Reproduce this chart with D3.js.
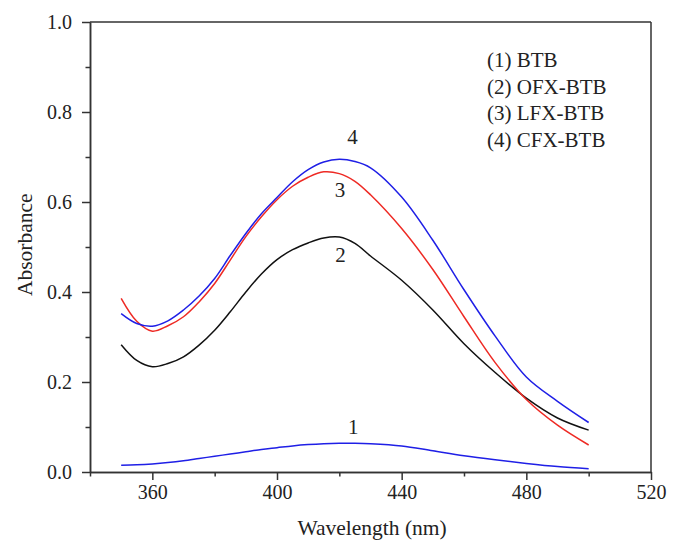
<!DOCTYPE html>
<html>
<head>
<meta charset="utf-8">
<script src="https://cdn.jsdelivr.net/npm/d3@7"></script>
<style>
  body { margin: 0; background: #fff; }
  svg text { font-family: "Liberation Serif", "Times New Roman", "DejaVu Serif", serif; fill: #222; }
</style>
</head>
<body>
<div id="chart"></div>
<script>
const margin = { top: 22, right: 28, bottom: 82, left: 90 };
const width = 679 - margin.left - margin.right;
const height = 554 - margin.top - margin.bottom;

// wavelength (nm) and absorbance
const wavelengths = [350, 355, 360, 365, 370, 375, 380, 385, 390, 395, 400, 405, 410, 415, 420, 425, 430, 440, 450, 460, 470, 480, 490, 500];
const btb    = [0.015, 0.016, 0.018, 0.021, 0.025, 0.030, 0.035, 0.040, 0.045, 0.050, 0.054, 0.058, 0.061, 0.063, 0.064, 0.064, 0.063, 0.058, 0.047, 0.036, 0.027, 0.019, 0.012, 0.007];
const ofxBtb = [0.283, 0.248, 0.234, 0.241, 0.256, 0.282, 0.315, 0.356, 0.400, 0.440, 0.472, 0.494, 0.509, 0.520, 0.522, 0.508, 0.480, 0.426, 0.360, 0.285, 0.221, 0.164, 0.120, 0.093];
const lfxBtb = [0.386, 0.335, 0.313, 0.325, 0.345, 0.378, 0.419, 0.471, 0.523, 0.567, 0.605, 0.635, 0.655, 0.667, 0.663, 0.646, 0.616, 0.541, 0.450, 0.345, 0.243, 0.161, 0.104, 0.060];
const cfxBtb = [0.352, 0.330, 0.324, 0.336, 0.360, 0.391, 0.430, 0.481, 0.530, 0.574, 0.610, 0.645, 0.672, 0.689, 0.695, 0.690, 0.676, 0.611, 0.515, 0.405, 0.302, 0.211, 0.157, 0.110];

const seriesNames = ['(1) BTB', '(2) OFX-BTB', '(3) LFX-BTB', '(4) CFX-BTB'];
const curveNumbers = ['1', '2', '3', '4'];
// where the little number sits next to each curve (nm, absorbance)
const numberAtX = [424.5, 420.4, 420.2, 424.2];
const numberAtY = [0.100, 0.482, 0.627, 0.745];

const xMajor = [360, 400, 440, 480, 520];
const xMinor = [340, 380, 420, 460, 500];
const yMajor = [0, 0.2, 0.4, 0.6, 0.8, 1.0];
const yMinor = [0.1, 0.3, 0.5, 0.7, 0.9];

const colors = ['#1f1fe6', '#111111', '#ee2a24', '#1f1fe6'];
const allSeries = [btb, ofxBtb, lfxBtb, cfxBtb];
const serif = '"Liberation Serif", "Times New Roman", "DejaVu Serif", serif';

const svg = d3.select('#chart')
  .append('svg')
  .attr('width', width + margin.left + margin.right)
  .attr('height', height + margin.top + margin.bottom)
  .append('g')
  .attr('transform', `translate(${margin.left},${margin.top})`);

const x = d3.scaleLinear().domain([340, 520]).range([0, width]);
const y = d3.scaleLinear().domain([0, 1]).range([height, 0]);

// axes: major ticks carry labels, minor ones don't
function styleAxis(g) {
  g.attr('font-family', serif).attr('font-size', 20);
  g.selectAll('path, line').attr('stroke', '#333').attr('stroke-width', 1.5);
  g.selectAll('text').attr('fill', '#222');
}

svg.append('g')
  .attr('transform', `translate(0,${height})`)
  .call(d3.axisBottom(x).tickValues(xMajor).tickSize(8).tickSizeOuter(0).tickPadding(5).tickFormat(d3.format('d')))
  .call(styleAxis);
svg.append('g')
  .attr('transform', `translate(0,${height})`)
  .call(d3.axisBottom(x).tickValues(xMinor).tickSize(4.5).tickSizeOuter(0).tickFormat(''))
  .call(styleAxis);

svg.append('g')
  .call(d3.axisLeft(y).tickValues(yMajor).tickSize(8).tickSizeOuter(0).tickPadding(10).tickFormat(d3.format('.1f')))
  .call(styleAxis);
svg.append('g')
  .call(d3.axisLeft(y).tickValues(yMinor).tickSize(4.5).tickSizeOuter(0).tickFormat(''))
  .call(styleAxis);

// frame top and right
svg.append('line').attr('x1', 0).attr('x2', width).attr('y1', 0).attr('y2', 0)
  .attr('stroke', '#333').attr('stroke-width', 1.5);
svg.append('line').attr('x1', width).attr('x2', width).attr('y1', 0).attr('y2', height)
  .attr('stroke', '#333').attr('stroke-width', 1.5);

// spectra
const line = d3.line()
  .x((d, i) => x(wavelengths[i]))
  .y((d) => y(d))
  .curve(d3.curveCatmullRom.alpha(0.5));

svg.selectAll('.spectrum')
  .data(allSeries)
  .join('path')
  .attr('class', 'spectrum')
  .attr('d', line)
  .attr('fill', 'none')
  .attr('stroke', (d, i) => colors[i])
  .attr('stroke-width', 1.5);

// curve numbers
svg.selectAll('.num')
  .data(curveNumbers)
  .join('text')
  .attr('class', 'num')
  .attr('x', (d, i) => x(numberAtX[i]))
  .attr('y', (d, i) => y(numberAtY[i]))
  .attr('dy', '0.35em')
  .attr('text-anchor', 'middle')
  .style('font-size', '21px')
  .text((d) => d);

// legend, plain text list
svg.selectAll('.legend')
  .data(seriesNames)
  .join('text')
  .attr('class', 'legend')
  .attr('x', 397)
  .attr('y', (d, i) => 45 + i * 26.5)
  .style('font-size', '21px')
  .text((d) => d);

// axis titles
svg.append('text')
  .attr('x', x(430.5))
  .attr('y', height + 63)
  .attr('text-anchor', 'middle')
  .style('font-size', '21.5px')
  .text('Wavelength (nm)');

svg.append('text')
  .attr('transform', `translate(${-margin.left + 32},${y(0.505)}) rotate(-90)`)
  .attr('text-anchor', 'middle')
  .style('font-size', '21.5px')
  .text('Absorbance');
</script>
</body>
</html>
